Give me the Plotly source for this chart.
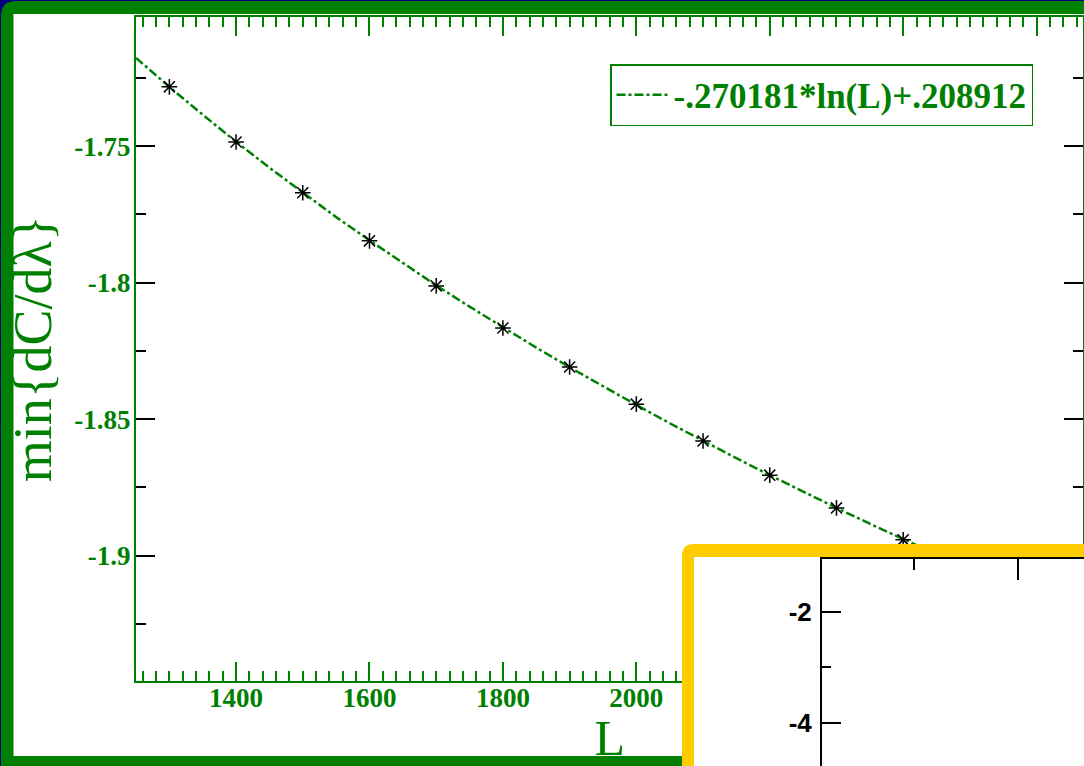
import plotly.graph_objects as go

W, H = 1084, 766

# ---------------- data ----------------
L_pts = [1300, 1400, 1500, 1600, 1700, 1800, 1900, 2000, 2100, 2200, 2300, 2400]
dCdl_min = [-1.7283, -1.7485, -1.7671, -1.7847, -1.8012, -1.8166,
            -1.8309, -1.8445, -1.8580, -1.8705, -1.8825, -1.8942]

fit_L = [1250, 1300, 1350, 1400, 1450, 1500, 1550, 1600, 1650, 1700, 1750,
         1800, 1850, 1900, 1950, 2000, 2050, 2100, 2150, 2200, 2250, 2300,
         2350, 2400, 2450, 2500]
fit_vals = [-1.7177, -1.7283, -1.7385, -1.7484, -1.7579, -1.7671, -1.7760,
            -1.7845, -1.7929, -1.8010, -1.8088, -1.8164, -1.8238, -1.8310,
            -1.8380, -1.8448, -1.8515, -1.8580, -1.8643, -1.8705, -1.8766,
            -1.8825, -1.8883, -1.8940, -1.8996, -1.9050]
fit_label = "-.270181*ln(L)+.208912"

y_tickvals = [-1.9, -1.85, -1.8, -1.75]
y_ticktext = ["-1.9", "-1.85", "-1.8", "-1.75"]
y_minorvals = [-1.925, -1.875, -1.825, -1.775, -1.725]

inset_y_tickvals = [-2, -4]
inset_y_ticktext = ["-2", "-4"]

GREEN = "#008000"
NAVY = "#000080"
YELLOW = "#FFCC00"


def px(x):
    return x / W


def py(y):
    return 1 - y / H


fig = go.Figure()

fig.add_trace(go.Scatter(
    x=fit_L, y=fit_vals, mode="lines", name=fit_label,
    line=dict(color=GREEN, width=2.5, dash="dashdot"),
    xaxis="x", yaxis="y"))
fig.add_trace(go.Scatter(
    x=L_pts, y=dCdl_min, mode="markers", showlegend=False,
    marker=dict(symbol="asterisk-open", size=13, color="black",
                line=dict(color="black", width=1.5)),
    xaxis="x", yaxis="y"))

# dummy subplot: white cover of the inset panel
fig.add_trace(go.Scatter(x=[0], y=[0], mode="markers", showlegend=False,
                         marker=dict(opacity=0), hoverinfo="skip",
                         xaxis="x2", yaxis="y2"))
# inset subplot
fig.add_trace(go.Scatter(x=[1], y=[-3], mode="markers", showlegend=False,
                         marker=dict(opacity=0), hoverinfo="skip",
                         xaxis="x3", yaxis="y3"))

serif = "Liberation Serif"

fig.update_layout(
    width=W, height=H,
    margin=dict(l=0, r=0, t=0, b=0),
    paper_bgcolor=NAVY, plot_bgcolor="white",
    showlegend=True,
    legend=dict(x=px(610), y=py(64), xanchor="left", yanchor="top",
                bgcolor="white", bordercolor=GREEN, borderwidth=1.5,
                font=dict(family=serif, size=35, color=GREEN, weight="bold"),
                itemwidth=52),
    xaxis=dict(
        domain=[px(136), px(1083.3)], range=[1250, 2670],
        anchor="y", showline=True, linecolor=GREEN, linewidth=2,
        mirror="ticks", ticks="inside", ticklen=19, tickwidth=1.5,
        tickcolor=GREEN, tick0=0, dtick=200,
        minor=dict(dtick=20, ticklen=10, tickwidth=1.5, tickcolor=GREEN,
                   ticks="inside"),
        showgrid=False, zeroline=False,
        tickfont=dict(family=serif, size=27, color=GREEN, weight="bold"),
        ticklabelstandoff=-8,
        title=dict(text="L", font=dict(family=serif, size=50, color=GREEN),
                   standoff=6),
    ),
    yaxis=dict(
        domain=[py(681), py(16.7)], range=[-1.9459, -1.7026],
        anchor="x", showline=True, linecolor=GREEN, linewidth=2,
        mirror="ticks", ticks="inside", ticklen=19, tickwidth=1.5,
        tickcolor="black", tickmode="array", tickvals=y_tickvals,
        ticktext=y_ticktext,
        minor=dict(tickmode="array", tickvals=y_minorvals, ticklen=10,
                   tickwidth=1.5, tickcolor="black", ticks="inside"),
        showgrid=False, zeroline=False,
        tickfont=dict(family=serif, size=27, color=GREEN, weight="bold"),
        ticklabelstandoff=-2,
        title=dict(text="min{dC/dλ}",
                   font=dict(family=serif, size=54, color=GREEN),
                   standoff=5),
    ),
    xaxis2=dict(domain=[px(682), 1], anchor="y2", visible=False,
                range=[0, 1]),
    yaxis2=dict(domain=[0, py(544)], anchor="x2", visible=False,
                range=[0, 1]),
    xaxis3=dict(
        domain=[px(822), 1], anchor="y3", side="top",
        range=[0.115, 2.634], showline=True, linecolor="black", linewidth=2,
        ticks="inside", ticklen=21, tickwidth=1.5, tickcolor="black",
        tick0=0, dtick=2, showticklabels=False, showgrid=False,
        zeroline=False,
        minor=dict(dtick=1, ticklen=11, tickwidth=1.5, tickcolor="black",
                   ticks="inside"),
    ),
    yaxis3=dict(
        domain=[0, py(559)], anchor="x3", range=[-4.775, -1.045],
        showline=True, linecolor="black", linewidth=2,
        ticks="inside", ticklen=19, tickwidth=1.5, tickcolor="black",
        tickmode="array", tickvals=inset_y_tickvals,
        ticktext=inset_y_ticktext, showgrid=False, zeroline=False,
        minor=dict(tickmode="array", tickvals=[-3], ticklen=9, tickwidth=1.5,
                   tickcolor="black", ticks="inside"),
        tickfont=dict(family="Liberation Sans", size=26, color="black",
                      weight="bold"),
        ticklabelstandoff=3,
    ),
)


def P(x, y):
    return f"{px(x):.5f},{py(y):.5f}"


# outer green frame with rounded corner, white panel
green_path = (f"M {P(1, 1100)} L {P(1, 16)} Q {P(1, 1)} {P(16, 1)} "
              f"L {P(1100, 1)} L {P(1100, 1100)} Z")
yellow_path = (f"M {P(682, 800)} L {P(682, 556)} Q {P(682, 544)} {P(694, 544)} "
               f"L {P(1100, 544)} L {P(1100, 557)} L {P(694, 557)} "
               f"L {P(694, 800)} Z")

fig.update_layout(shapes=[
    dict(type="path", xref="paper", yref="paper", path=green_path,
         fillcolor=GREEN, line=dict(width=0), layer="below"),
    dict(type="rect", xref="paper", yref="paper", x0=px(13.5), x1=1.02,
         y0=py(756), y1=py(14), fillcolor="white", line=dict(width=0),
         layer="below"),
    dict(type="path", xref="paper", yref="paper", path=yellow_path,
         fillcolor=YELLOW, line=dict(width=0), layer="above"),
])

fig.write_html("out.html",
               config={"displayModeBar": False},
               post_script="document.body.style.margin='0px';"
                           "document.body.style.overflow='hidden';")
